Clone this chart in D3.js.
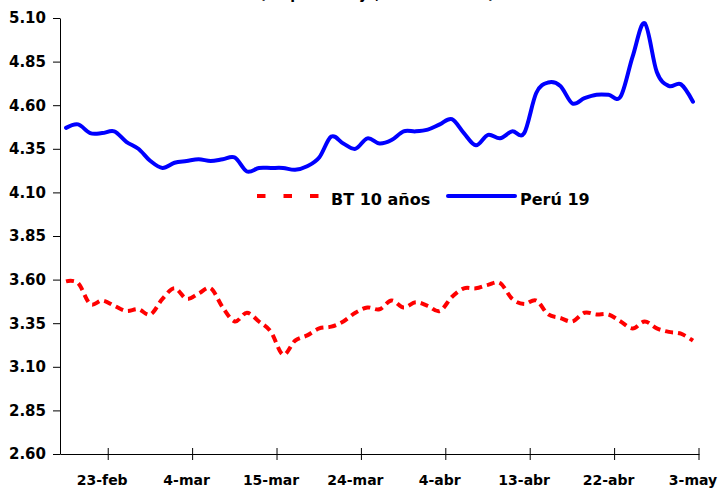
<!DOCTYPE html>
<html>
<head>
<meta charset="utf-8">
<script src="https://cdn.jsdelivr.net/npm/d3@7"></script>
<style>
  body { margin: 0; background: #fff; }
  svg { display: block; font-family: "DejaVu Sans", sans-serif; font-weight: bold; }
</style>
</head>
<body>
<div id="chart"></div>
<script>
// business days, 18-feb to 3-may
const dates = ["18-feb","21-feb","22-feb","23-feb","24-feb","25-feb","28-feb",
  "1-mar","2-mar","3-mar","4-mar","7-mar","8-mar","9-mar","10-mar","11-mar","14-mar","15-mar",
  "16-mar","17-mar","18-mar","21-mar","22-mar","23-mar","24-mar","25-mar","28-mar","29-mar",
  "30-mar","31-mar","1-abr","4-abr","5-abr","6-abr","7-abr","8-abr","11-abr","12-abr","13-abr",
  "14-abr","15-abr","18-abr","19-abr","20-abr","21-abr","22-abr","25-abr","26-abr","27-abr",
  "28-abr","29-abr","2-may","3-may"];

const tickDates = ["23-feb","4-mar","15-mar","24-mar","4-abr","13-abr","22-abr","3-may"];

const peru19 = [4.47,4.49,4.44,4.44,4.45,4.39,4.35,4.28,4.24,4.27,
  4.28,4.29,4.28,4.29,4.30,4.22,4.24,4.24,4.24,4.23,
  4.25,4.30,4.42,4.38,4.35,4.41,4.38,4.40,4.45,4.45,
  4.46,4.49,4.52,4.44,4.37,4.43,4.41,4.45,4.44,4.67,
  4.73,4.71,4.61,4.64,4.66,4.66,4.65,4.88,5.07,4.79,
  4.71,4.72,4.62];

const bt10 = [3.59,3.58,3.46,3.48,3.45,3.42,3.43,3.40,3.49,3.55,
  3.49,3.52,3.55,3.44,3.36,3.41,3.36,3.30,3.17,3.25,
  3.28,3.32,3.33,3.36,3.41,3.44,3.43,3.48,3.44,3.47,
  3.45,3.42,3.50,3.55,3.55,3.57,3.58,3.49,3.46,3.48,
  3.40,3.38,3.36,3.41,3.40,3.40,3.36,3.32,3.36,3.32,
  3.30,3.29,3.25];

const yTicks = [2.60,2.85,3.10,3.35,3.60,3.85,4.10,4.35,4.60,4.85,5.10];

const width = 720, height = 489;

const svg = d3.select("#chart").append("svg")
  .attr("width", width)
  .attr("height", height);

// title (cut off at the top, as in the original)
svg.append("text")
  .attr("x", 377)
  .attr("y", -1)
  .attr("text-anchor", "middle")
  .attr("font-size", "14px")
  .text("(En porcentaje, datos diarios)");

const x = d3.scaleBand()
  .domain(dates)
  .range([60, 699])
  .padding(0);

const y = d3.scaleLinear()
  .domain([2.60, 5.10])
  .range([454, 18]);

const cx = (d) => x(d) + x.bandwidth() / 2;

// y axis
const yAxis = svg.append("g")
  .attr("transform", "translate(60,0)")
  .call(d3.axisLeft(y).tickValues(yTicks).tickFormat(d3.format(".2f")).tickSize(7).tickSizeOuter(0));
yAxis.select(".domain").attr("stroke", "#000");
yAxis.selectAll(".tick line").attr("x1", 0).attr("stroke", "#000");
yAxis.selectAll(".tick text")
  .attr("x", -14)
  .attr("font-size", "15px")
  .attr("font-family", "DejaVu Sans")
  .attr("font-weight", "bold")
  .attr("fill", "#000");

// x axis: labels centred on the category, ticks on its right edge
const xAxis = svg.append("g")
  .attr("transform", "translate(0,454)")
  .call(d3.axisBottom(x).tickValues(tickDates).tickSize(0).tickSizeOuter(0).tickPadding(21));
xAxis.select(".domain").attr("stroke", "#000");
xAxis.selectAll(".tick text")
  .attr("font-size", "14px")
  .attr("font-family", "DejaVu Sans")
  .attr("font-weight", "bold")
  .attr("fill", "#000");

svg.append("g")
  .selectAll("line")
  .data(tickDates)
  .enter()
  .append("line")
  .attr("x1", (d) => x(d) + x.bandwidth())
  .attr("x2", (d) => x(d) + x.bandwidth())
  .attr("y1", 448)
  .attr("y2", 460)
  .attr("stroke", "#000");

const line = (vals) => d3.line()
  .x((d, i) => cx(dates[i]))
  .y((d) => y(d))
  .curve(d3.curveCatmullRom.alpha(0))(vals);

svg.append("path")
  .attr("d", line(bt10))
  .attr("fill", "none")
  .attr("stroke", "#ff0000")
  .attr("stroke-width", 4)
  .attr("stroke-dasharray", "8,5");

svg.append("path")
  .attr("d", line(peru19))
  .attr("fill", "none")
  .attr("stroke", "#0000ff")
  .attr("stroke-width", 4)
  .attr("stroke-linecap", "round")
  .attr("stroke-linejoin", "round");

// legend
const legend = svg.append("g").attr("font-size", "16px");
legend.append("line")
  .attr("x1", 257).attr("x2", 319)
  .attr("y1", 196).attr("y2", 196)
  .attr("stroke", "#ff0000")
  .attr("stroke-width", 4)
  .attr("stroke-dasharray", "8.5,18");
legend.append("text")
  .attr("x", 331).attr("y", 205)
  .text("BT 10 años");
legend.append("line")
  .attr("x1", 448).attr("x2", 515)
  .attr("y1", 196).attr("y2", 196)
  .attr("stroke", "#0000ff")
  .attr("stroke-width", 4)
  .attr("stroke-linecap", "round");
legend.append("text")
  .attr("x", 520).attr("y", 205)
  .text("Perú 19");
</script>
</body>
</html>
